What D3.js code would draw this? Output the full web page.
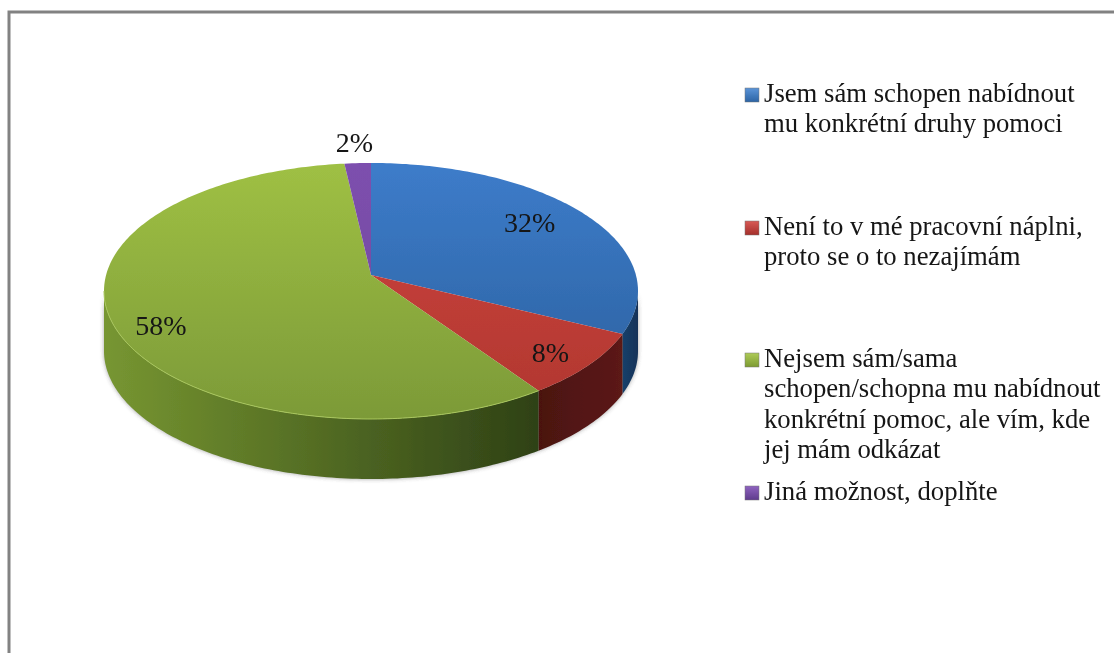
<!DOCTYPE html>
<html>
<head>
<meta charset="utf-8">
<script src="https://cdn.jsdelivr.net/npm/d3@7"></script>
<style>
html, body { margin: 0; padding: 0; background: #fff; }
svg { display: block; }
text { font-family: "Liberation Serif", serif; fill: #141414; }
</style>
</head>
<body>
<div id="chart"></div>
<script>
const width = 1114;
const height = 653;

// data
const categories = [
    ["Jsem sám schopen nabídnout", "mu konkrétní druhy pomoci"],
    ["Není to v mé pracovní náplni,", "proto se o to nezajímám"],
    ["Nejsem sám/sama", "schopen/schopna mu nabídnout", "konkrétní pomoc, ale vím, kde", "jej mám odkázat"],
    ["Jiná možnost, doplňte"]
];
// labels show them rounded
const values = [32.3, 8.1, 57.8, 1.8];

// looks
const topColors = [["#3d7cca", "#2a5f9c"], ["#cf4340", "#b0372f"], ["#9fc044", "#7c9a38"], ["#7d4fae", "#6f4a9a"]];
const sideColors = [["#1a4470", "#123258"], ["#4a1110", "#5c1a16"], ["#779631", "#2f4216"], ["#4a2f6a", "#4a2f6a"]];
const legendColors = [["#5b94d8", "#2b63a4"], ["#d85a56", "#a42f2b"], ["#aecb58", "#7c9a30"], ["#8f63c0", "#5f3c8c"]];
const legendY = [102, 235, 367, 500];
const labelRadius = [0.74, 0.83, 0.85, 1.1];
const labelNudge = [[0, 4], [1, 14], [9, 21], [-2, -1]];

// pie geometry: disc is seen in perspective so the apex sits above the ellipse centre
const cx = 371, cy = 291, rx = 267, ry = 128, depth = 60, skew = -0.125;
const squash = Math.sqrt(1 - skew * skew);

function project(angle, r) {
    const u = Math.sin(angle) * r;
    const v = -Math.cos(angle) * r;
    const den = 1 + skew * v;
    return [cx + rx * u * squash / den, cy + ry * (v + skew) / den];
}
function rim(a0, a1) {
    const n = Math.max(2, Math.ceil((a1 - a0) * 60));
    return d3.range(n + 1).map((i) => project(a0 + (a1 - a0) * i / n, 1));
}

const svg = d3.select("#chart")
    .append("svg")
    .attr("width", width)
    .attr("height", height);

svg.append("rect").attr("width", width).attr("height", height).attr("fill", "#fff");

const defs = svg.append("defs");
const soft = defs.append("filter").attr("id", "soft");
soft.append("feGaussianBlur").attr("stdDeviation", 0.6);
const softText = defs.append("filter").attr("id", "softText");
softText.append("feGaussianBlur").attr("stdDeviation", 0.45);
const halo = defs.append("filter").attr("id", "halo")
    .attr("x", "-5%").attr("y", "-5%").attr("width", "110%").attr("height", "110%");
halo.append("feGaussianBlur").attr("stdDeviation", 2);

function gradient(id, colors, x1, y1, x2, y2, units) {
    const g = defs.append("linearGradient").attr("id", id)
        .attr("x1", x1).attr("y1", y1).attr("x2", x2).attr("y2", y2);
    if (units) g.attr("gradientUnits", units);
    g.append("stop").attr("offset", "0%").attr("stop-color", colors[0]);
    g.append("stop").attr("offset", "100%").attr("stop-color", colors[1]);
}
values.forEach((d, i) => {
    gradient("top" + i, topColors[i], cx, cy - ry, cx, cy + ry, "userSpaceOnUse");
    gradient("legend" + i, legendColors[i], 0, 0, 0, 1);
});
// side walls run dark towards the right
gradient("side0", sideColors[0], cx + rx - 20, 0, cx + rx, 0, "userSpaceOnUse");
gradient("side1", sideColors[1], 534, 0, 625, 0, "userSpaceOnUse");
gradient("side2", sideColors[2], cx - rx, 0, 534, 0, "userSpaceOnUse");
gradient("side3", sideColors[3], 0, 0, 1, 0);

// frame, only top and left are visible
const frame = d3.line();
svg.append("path")
    .attr("d", frame([[9, height], [9, 12], [width, 12]]))
    .attr("fill", "none")
    .attr("stroke", "#828282")
    .attr("stroke-width", 3);

const arcs = d3.pie().sort(null).startAngle(0).endAngle(2 * Math.PI)(values);
const line = d3.line();

// front wall is only visible below the widest line of the ellipse
const front0 = Math.PI - Math.acos(-skew);
const front1 = 2 * Math.PI - front0;

const chart = svg.append("g").attr("filter", "url(#soft)");

function wall(a0, a1) {
    const edge = rim(a0, a1);
    const low = edge.map((p) => [p[0], p[1] + depth]).reverse();
    return line(edge.concat(low)) + "Z";
}

// soft shadow behind the wall
chart.append("path")
    .attr("d", wall(front0, front1))
    .attr("fill", "#555")
    .attr("opacity", 0.55)
    .attr("filter", "url(#halo)");

chart.append("g").selectAll("path")
    .data(arcs.filter((d) => d.endAngle > front0 && d.startAngle < front1))
    .enter().append("path")
    .attr("d", (d) => wall(Math.max(d.startAngle, front0), Math.min(d.endAngle, front1)))
    .attr("fill", (d) => "url(#side" + d.index + ")");

chart.append("g").selectAll("path")
    .data(arcs)
    .enter().append("path")
    .attr("d", (d) => line([project(0, 0)].concat(rim(d.startAngle, d.endAngle))) + "Z")
    .attr("fill", (d) => "url(#top" + d.index + ")");

// thin light edge along the green rim
chart.append("path")
    .attr("d", line(rim(arcs[2].startAngle, front1)))
    .attr("fill", "none")
    .attr("stroke", "#a8c65c")
    .attr("stroke-width", 1);

// percentage labels
svg.append("g").attr("filter", "url(#softText)").selectAll("text")
    .data(arcs)
    .enter().append("text")
    .attr("x", (d) => project((d.startAngle + d.endAngle) / 2, labelRadius[d.index])[0] + labelNudge[d.index][0])
    .attr("y", (d) => project((d.startAngle + d.endAngle) / 2, labelRadius[d.index])[1] + labelNudge[d.index][1])
    .attr("text-anchor", "middle")
    .attr("font-size", 28)
    .text((d) => Math.round(d.value) + "%");

// legend
const legend = svg.append("g").attr("filter", "url(#softText)").selectAll("g")
    .data(categories)
    .enter().append("g")
    .attr("transform", (d, i) => "translate(745," + legendY[i] + ")");
legend.append("rect")
    .attr("x", 0)
    .attr("y", -14)
    .attr("width", 14)
    .attr("height", 14)
    .attr("fill", (d, i) => "url(#legend" + i + ")")
    .attr("stroke", "#777")
    .attr("stroke-width", 0.5);
legend.append("text")
    .attr("font-size", 26.7)
    .selectAll("tspan")
    .data((d) => d)
    .enter().append("tspan")
    .attr("x", 19)
    .attr("y", (d, i) => i * 30.3)
    .text((d) => d);
</script>
</body>
</html>
